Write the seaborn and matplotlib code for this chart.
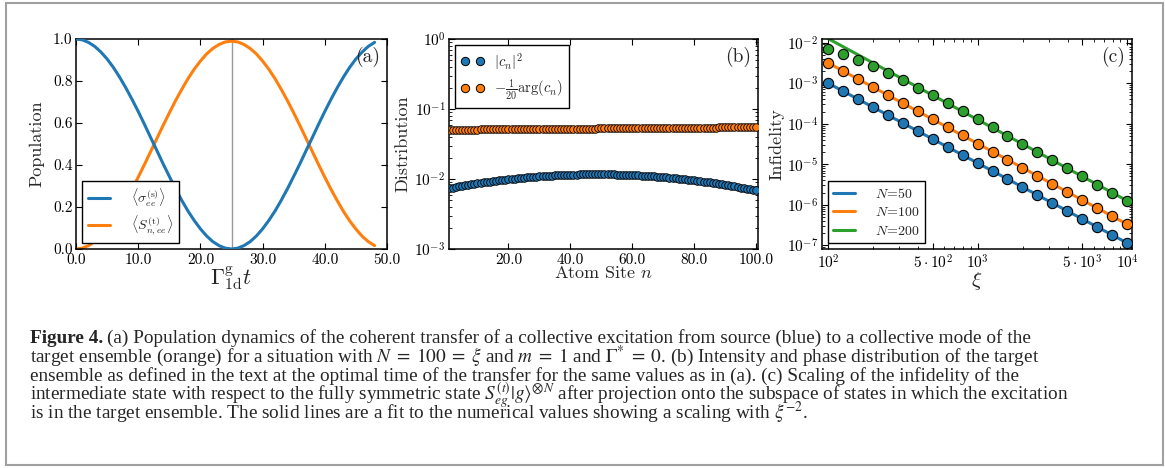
import numpy as np
import pandas as pd
import matplotlib
matplotlib.use("Agg")
import matplotlib.pyplot as plt
import seaborn as sns
from matplotlib.patches import Rectangle
from matplotlib.lines import Line2D
from matplotlib.ticker import FormatStrFormatter, FixedLocator

# ---------------- data ----------------
# (a) population dynamics
t_vals = list(range(0, 49))
pop_source = [1.000, 0.996, 0.984, 0.965, 0.938, 0.905, 0.865, 0.819, 0.768, 0.713,
              0.655, 0.594, 0.531, 0.469, 0.406, 0.346, 0.287, 0.232, 0.181, 0.136,
              0.096, 0.062, 0.035, 0.016, 0.004, 0.000, 0.004, 0.016, 0.035, 0.062,
              0.096, 0.136, 0.181, 0.232, 0.287, 0.346, 0.406, 0.469, 0.531, 0.594,
              0.655, 0.713, 0.768, 0.819, 0.865, 0.905, 0.938, 0.965, 0.984]
pop_target = [0.000, 0.004, 0.016, 0.035, 0.061, 0.095, 0.134, 0.179, 0.230, 0.284,
              0.342, 0.402, 0.464, 0.526, 0.588, 0.648, 0.706, 0.760, 0.811, 0.856,
              0.895, 0.929, 0.955, 0.974, 0.986, 0.990, 0.986, 0.974, 0.955, 0.929,
              0.895, 0.856, 0.811, 0.760, 0.706, 0.648, 0.588, 0.526, 0.464, 0.402,
              0.342, 0.284, 0.230, 0.179, 0.134, 0.095, 0.061, 0.035, 0.016]
t_opt = 25.0

# (b) intensity and phase distribution
atom_site = list(range(1, 101))
intensity = [0.00742, 0.00756, 0.00770, 0.00784, 0.00798, 0.00812, 0.00826, 0.00840, 0.00853, 0.00867,
             0.00880, 0.00893, 0.00906, 0.00919, 0.00932, 0.00944, 0.00956, 0.00968, 0.00980, 0.00992,
             0.01003, 0.01014, 0.01024, 0.01035, 0.01045, 0.01054, 0.01064, 0.01073, 0.01081, 0.01089,
             0.01097, 0.01105, 0.01112, 0.01119, 0.01125, 0.01131, 0.01136, 0.01141, 0.01146, 0.01150,
             0.01154, 0.01157, 0.01160, 0.01162, 0.01164, 0.01166, 0.01167, 0.01167,
             0.01167, 0.01167, 0.01166, 0.01164, 0.01162, 0.01160, 0.01157, 0.01154, 0.01150, 0.01146,
             0.01141, 0.01136, 0.01131, 0.01125, 0.01119, 0.01112, 0.01105, 0.01097, 0.01089, 0.01081,
             0.01073, 0.01064, 0.01054, 0.01045, 0.01035, 0.01024, 0.01014, 0.01003, 0.00992, 0.00980,
             0.00968, 0.00956, 0.00944, 0.00932, 0.00919, 0.00906, 0.00893, 0.00880, 0.00867, 0.00853,
             0.00840, 0.00826, 0.00812, 0.00798, 0.00784, 0.00770, 0.00756, 0.00742, 0.00728, 0.00714,
             0.00700, 0.00686]
phase = [0.05050, 0.05055, 0.05059, 0.05064, 0.05068, 0.05073, 0.05077, 0.05082, 0.05086, 0.05091,
         0.05095, 0.05100, 0.05104, 0.05109, 0.05113, 0.05118, 0.05122, 0.05127, 0.05131, 0.05136,
         0.05140, 0.05145, 0.05149, 0.05154, 0.05158, 0.05163, 0.05167, 0.05172, 0.05176, 0.05181,
         0.05185, 0.05190, 0.05194, 0.05199, 0.05203, 0.05208, 0.05212, 0.05217, 0.05221, 0.05226,
         0.05230, 0.05235, 0.05239, 0.05244, 0.05248, 0.05253, 0.05257, 0.05262, 0.05266, 0.05271,
         0.05275, 0.05280, 0.05284, 0.05289, 0.05293, 0.05298, 0.05302, 0.05307, 0.05311, 0.05316,
         0.05320, 0.05325, 0.05329, 0.05334, 0.05338, 0.05343, 0.05347, 0.05352, 0.05356, 0.05361,
         0.05365, 0.05370, 0.05374, 0.05379, 0.05383, 0.05388, 0.05392, 0.05397, 0.05401, 0.05406,
         0.05410, 0.05415, 0.05419, 0.05424, 0.05428, 0.05433, 0.05437, 0.05442, 0.05446, 0.05451,
         0.05455, 0.05460, 0.05464, 0.05469, 0.05473, 0.05478, 0.05482, 0.05487, 0.05491, 0.05496]

# (c) infidelity scaling
xi_vals = [100, 125.9, 158.5, 199.5, 251.2, 316.2, 398.1, 501.2, 631.0, 794.3,
           1000, 1259, 1585, 1995, 2512, 3162, 3981, 5012, 6310, 7943, 10000]
infid_N50 = [1.00e-3, 6.35e-4, 4.04e-4, 2.56e-4, 1.63e-4, 1.035e-4, 6.58e-5, 4.18e-5, 2.65e-5, 1.69e-5,
             1.07e-5, 6.81e-6, 4.33e-6, 2.75e-6, 1.75e-6, 1.11e-6, 7.05e-7, 4.48e-7, 2.84e-7, 1.81e-7, 1.15e-7]
infid_N100 = [3.16e-3, 2.00e-3, 1.265e-3, 8.0e-4, 5.06e-4, 3.20e-4, 2.02e-4, 1.28e-4, 8.09e-5, 5.12e-5,
              3.24e-5, 2.05e-5, 1.29e-5, 8.18e-6, 5.18e-6, 3.27e-6, 2.07e-6, 1.31e-6, 8.28e-7, 5.24e-7, 3.31e-7]
infid_N200 = [6.98e-3, 5.16e-3, 3.68e-3, 2.72e-3, 1.80e-3, 1.21e-3, 7.8e-4, 4.98e-4, 3.23e-4, 2.05e-4,
              1.28e-4, 8.1e-5, 5.07e-5, 3.2e-5, 2.0e-5, 1.26e-5, 7.98e-6, 5.0e-6, 3.16e-6, 2.0e-6, 1.26e-6]
xi_fit = [100, 12000]
fit_N50 = [1.00e-3, 8.0e-8]
fit_N100 = [3.16e-3, 2.31e-7]
fit_N200 = [1.26e-2, 8.75e-7]
series_labels = [r"$N\!=\!50$", r"$N\!=\!100$", r"$N\!=\!200$"]

# ---------------- style ----------------
sns.set_style("ticks")
plt.rcParams.update({
    "font.family": ["cmr10", "DejaVu Serif"],
    "mathtext.fontset": "cm",
    "axes.formatter.use_mathtext": True,
    "axes.unicode_minus": True,
    "xtick.direction": "in", "ytick.direction": "in",
    "xtick.top": True, "ytick.right": True,
    "xtick.major.size": 4, "ytick.major.size": 4,
    "xtick.minor.size": 2, "ytick.minor.size": 2,
    "xtick.major.width": 0.8, "ytick.major.width": 0.8,
    "xtick.minor.width": 0.6, "ytick.minor.width": 0.6,
    "xtick.color": "black", "ytick.color": "black",
    "axes.edgecolor": "black", "axes.linewidth": 1.1,
    "xtick.labelsize": 11, "ytick.labelsize": 11,
    "xtick.major.pad": 3, "ytick.major.pad": 2.5,
    "axes.labelsize": 13,
    "legend.edgecolor": "black",
    "legend.fancybox": False,
    "legend.framealpha": 1.0,
})

blue, orange, green = "#1f77b4", "#ff7f0e", "#2ca02c"

W, H = 1165, 468
fig = plt.figure(figsize=(W / 100, H / 100), dpi=100)

def px_axes(left, top, right, bottom):
    return fig.add_axes([left / W, 1 - bottom / H, (right - left) / W, (bottom - top) / H])

axA = px_axes(76, 39, 387, 249)
axB = px_axes(449, 39, 758, 249)
axC = px_axes(822, 39, 1132, 249)

# ---------------- (a) ----------------
dfa = pd.DataFrame({"t": t_vals, "src": pop_source, "tgt": pop_target})
axA.axvline(t_opt, color="#9a9a9a", lw=1.0, zorder=1)
sns.lineplot(data=dfa, x="t", y="src", ax=axA, color=blue, lw=2.2,
             label=r"$\langle\sigma_{ee}^{(\mathrm{s})}\rangle$", zorder=3)
sns.lineplot(data=dfa, x="t", y="tgt", ax=axA, color=orange, lw=2.2,
             label=r"$\langle S_{n,ee}^{(\mathrm{t})}\rangle$", zorder=2)
axA.set_xlim(0, 50)
axA.set_ylim(0, 1)
axA.set_xticks([0, 10, 20, 30, 40, 50])
axA.set_yticks([0, 0.2, 0.4, 0.6, 0.8, 1.0])
axA.xaxis.set_major_formatter(FormatStrFormatter("%.1f"))
axA.yaxis.set_major_formatter(FormatStrFormatter("%.1f"))
axA.set_xlabel(r"$\Gamma^{\mathrm{g}}_{\mathrm{1d}}t$", labelpad=-2, fontsize=16)
axA.set_ylabel("Population", labelpad=6)
axA.legend(loc="lower left", fontsize=10, handlelength=1.6, borderaxespad=0.45,
           borderpad=0.4, labelspacing=0.35, handletextpad=1.5)
axA.text(0.977, 0.962, "(a)", transform=axA.transAxes, ha="right", va="top", fontsize=14)

# ---------------- (b) ----------------
dfb = pd.DataFrame({"n": atom_site, "inten": intensity, "ph": phase})
sns.scatterplot(data=dfb, x="n", y="ph", ax=axB, color=orange, s=30,
                edgecolor="black", linewidth=0.6, legend=False, zorder=3)
sns.scatterplot(data=dfb, x="n", y="inten", ax=axB, color=blue, s=30,
                edgecolor="black", linewidth=0.6, legend=False, zorder=3)
axB.set_yscale("log")
axB.set_ylim(1e-3, 1)
axB.set_xlim(0.8, 100.6)
axB.set_xticks([20, 40, 60, 80, 100])
axB.xaxis.set_major_formatter(FormatStrFormatter("%.1f"))
axB.set_xlabel(r"Atom Site $n$", labelpad=-1)
axB.set_ylabel("Distribution", labelpad=3)
hb = [Line2D([], [], ls="none", marker="o", ms=6, mfc=blue, mec="black", mew=0.7),
      Line2D([], [], ls="none", marker="o", ms=6, mfc=orange, mec="black", mew=0.7)]
axB.legend(hb, [r"$|c_n|^2$", r"$-\frac{1}{20}\arg(c_n)$"], loc="upper left",
           numpoints=2, fontsize=10.5, borderaxespad=0.4, borderpad=0.4, handlelength=1.6,
           handletextpad=0.7, labelspacing=0.4)
axB.text(0.977, 0.962, "(b)", transform=axB.transAxes, ha="right", va="top", fontsize=14)

# ---------------- (c) ----------------
dfc = pd.DataFrame({"xi": xi_vals, "N50": infid_N50, "N100": infid_N100, "N200": infid_N200})
dff = pd.DataFrame({"xi": xi_fit, "N50": fit_N50, "N100": fit_N100, "N200": fit_N200})
cols = [blue, orange, green]
keys = ["N50", "N100", "N200"]
for k, c in zip(keys, cols):
    sns.lineplot(data=dff, x="xi", y=k, ax=axC, color=c, lw=2.2, zorder=2)
for k, c in zip(keys, cols):
    sns.scatterplot(data=dfc, x="xi", y=k, ax=axC, color=c, s=55,
                    edgecolor="black", linewidth=0.8, legend=False, zorder=3)
axC.set_xscale("log")
axC.set_yscale("log")
axC.set_xlim(91, 10800)
axC.set_ylim(8.1e-8, 1.23e-2)
axC.xaxis.set_major_locator(FixedLocator([100, 500, 1000, 5000, 10000]))
axC.set_xticklabels([r"$10^2$", r"$5\cdot10^2$", r"$10^3$", r"$5\cdot10^3$", r"$10^4$"])
axC.set_xlabel(r"$\xi$", labelpad=-1, fontsize=15)
axC.set_ylabel("Infidelity", labelpad=2)
hc = [Line2D([], [], color=c, lw=2.2) for c in cols]
axC.legend(hc, series_labels, loc="lower left", fontsize=10, handlelength=1.6,
           borderaxespad=0.4, borderpad=0.4, handletextpad=1.4, labelspacing=0.4)
axC.text(0.977, 0.962, "(c)", transform=axC.transAxes, ha="right", va="top", fontsize=14)

# ---------------- caption ----------------
cap_font = "Liberation Serif"
cap_size = 13.9
lines = [
    r"(a) Population dynamics of the coherent transfer of a collective excitation from source (blue) to a collective mode of the",
    r"target ensemble (orange) for a situation with $N\;=\;100\;=\;\xi$ and $m\;=\;1$ and $\Gamma^{*}\;=\;0$. (b) Intensity and phase distribution of the target",
    r"ensemble as defined in the text at the optimal time of the transfer for the same values as in (a). (c) Scaling of the infidelity of the",
    r"intermediate state with respect to the fully symmetric state $S_{eg}^{(t)}|g\rangle^{\otimes N}$ after projection onto the subspace of states in which the excitation",
    r"is in the target ensemble. The solid lines are a fit to the numerical values showing a scaling with $\xi^{-2}$.",
]
baselines = [343, 362, 381, 400, 419]
x0 = 30
renderer = fig.canvas.get_renderer()
tb = fig.text(x0 / W, 1 - baselines[0] / H, "Figure 4.", family=cap_font, weight="bold",
              fontsize=cap_size, va="baseline", ha="left")
bb = tb.get_window_extent(renderer=renderer)
for i, (txt, yb) in enumerate(zip(lines, baselines)):
    xs = (bb.x1 + 4) / W if i == 0 else x0 / W
    t = fig.text(xs, 1 - yb / H, txt, family=cap_font, fontsize=cap_size,
                 va="baseline", ha="left")
    t.set_math_fontfamily("stix")

# border
fig.patches.append(Rectangle((6 / W, 1 - 465 / H), (1163 - 6) / W, (465 - 3) / H,
                             transform=fig.transFigure, fill=False, ec="#a0a0a0", lw=1.5))

fig.savefig("out.png", dpi=100)
